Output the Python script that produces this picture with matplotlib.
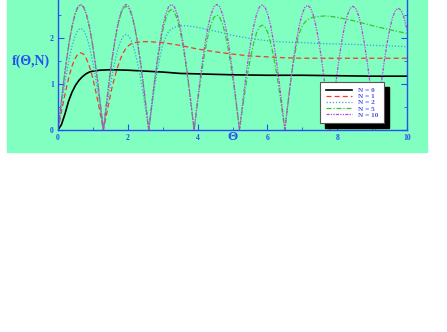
import numpy as np
import matplotlib.pyplot as plt
from matplotlib.patches import Rectangle

# valores leidos de la figura
# los arcos se leen cada 0.08125 (16 puntos por arco de ancho 1.3)
paso = 0.08125

# N = 0
theta_n0 = [0, 0.1, 0.2, 0.3, 0.4, 0.5, 0.6, 0.7, 0.8, 0.9, 1.0, 1.2, 1.5,
            2.0, 2.5, 3.0, 3.5, 4.0, 5.0, 6.0, 7.0, 8.0, 9.0, 10.0]
f_n0 = [0, 0.12, 0.35, 0.62, 0.82, 0.97, 1.08, 1.16, 1.22, 1.26, 1.28, 1.30, 1.31,
        1.30, 1.28, 1.26, 1.23, 1.22, 1.20, 1.19, 1.19, 1.18, 1.17, 1.17]

# N = 1
theta_n1 = list(np.round(np.arange(17) * paso, 5)) + [
    1.38, 1.46, 1.54, 1.625, 1.71, 1.79, 1.87, 1.95, 2.03, 2.11, 2.2, 2.3, 2.45,
    2.6, 3.0, 3.5, 4.0, 4.5, 5.0, 5.5, 6.0, 6.5, 7.0, 8.0, 9.0, 10.0]
f_n1 = [0, 0.33, 0.64, 0.93, 1.19, 1.40, 1.55, 1.65, 1.68, 1.65, 1.55, 1.40, 1.19, 0.93, 0.64, 0.33,
        0,
        0.30, 0.60, 0.90, 1.15, 1.37, 1.55, 1.68, 1.78, 1.84, 1.88, 1.90, 1.91, 1.92,
        1.92, 1.90, 1.84, 1.76, 1.70, 1.65, 1.61, 1.59, 1.57, 1.56, 1.56, 1.56, 1.56]

# N = 2
theta_n2 = list(np.round(np.arange(33) * paso, 5)) + [
    2.68, 2.76, 2.84, 2.925, 3.0, 3.09, 3.17, 3.25, 3.4, 3.575, 3.75, 4.0, 4.5,
    5.0, 5.5, 6.0, 6.5, 7.0, 7.5, 8.0, 8.5, 9.0, 9.5, 10.0]
f_n2 = [0, 0.43, 0.85, 1.23, 1.56, 1.84, 2.04, 2.17, 2.21, 2.17, 2.04, 1.84, 1.56, 1.23, 0.85, 0.43,
        0, 0.41, 0.80, 1.16, 1.47, 1.73, 1.92, 2.04, 2.08, 2.04, 1.92, 1.73, 1.47, 1.16, 0.80, 0.41,
        0,
        0.45, 0.90, 1.28, 1.60, 1.85, 2.03, 2.14, 2.20, 2.25, 2.27, 2.26, 2.23, 2.15,
        2.06, 1.99, 1.94, 1.91, 1.90, 1.88, 1.87, 1.86, 1.84, 1.83, 1.81]

# N = 5
theta_n5 = list(np.round(np.arange(81) * paso, 5)) + [
    6.58, 6.66, 6.74, 6.825, 6.9, 6.99, 7.07, 7.15, 7.3, 7.5, 7.65, 7.8, 8.0,
    8.5, 9.0, 9.5, 10.0]
f_n5 = [0, 0.53, 1.04, 1.51, 1.92, 2.26, 2.51, 2.67, 2.72, 2.67, 2.51, 2.26, 1.92, 1.51, 1.04, 0.53,
        0, 0.52, 1.03, 1.50, 1.90, 2.24, 2.49, 2.64, 2.69, 2.64, 2.49, 2.24, 1.90, 1.50, 1.03, 0.52,
        0, 0.51, 1.00, 1.46, 1.85, 2.18, 2.42, 2.57, 2.62, 2.57, 2.42, 2.18, 1.85, 1.46, 1.00, 0.51,
        0, 0.49, 0.96, 1.39, 1.77, 2.08, 2.31, 2.45, 2.50, 2.45, 2.31, 2.08, 1.77, 1.39, 0.96, 0.49,
        0, 0.44, 0.87, 1.27, 1.61, 1.89, 2.11, 2.24, 2.28, 2.24, 2.11, 1.89, 1.61, 1.27, 0.87, 0.44,
        0,
        0.52, 1.02, 1.45, 1.82, 2.08, 2.25, 2.34, 2.40, 2.45, 2.47, 2.48, 2.47, 2.45,
        2.37, 2.27, 2.18, 2.10]

# N = 10
theta_n10 = list(np.round(np.arange(124) * paso, 5)) + [10.0]
f_n10 = [0, 0.53, 1.05, 1.52, 1.93, 2.27, 2.52, 2.68, 2.73, 2.68, 2.52, 2.27, 1.93, 1.52, 1.05, 0.53,
         0, 0.53, 1.05, 1.52, 1.93, 2.27, 2.52, 2.68, 2.73, 2.68, 2.52, 2.27, 1.93, 1.52, 1.05, 0.53,
         0, 0.53, 1.05, 1.52, 1.93, 2.27, 2.52, 2.68, 2.73, 2.68, 2.52, 2.27, 1.93, 1.52, 1.05, 0.53,
         0, 0.53, 1.05, 1.52, 1.93, 2.27, 2.52, 2.68, 2.73, 2.68, 2.52, 2.27, 1.93, 1.52, 1.05, 0.53,
         0, 0.53, 1.04, 1.51, 1.92, 2.26, 2.51, 2.67, 2.72, 2.67, 2.51, 2.26, 1.92, 1.51, 1.04, 0.53,
         0, 0.53, 1.04, 1.51, 1.92, 2.25, 2.50, 2.66, 2.71, 2.66, 2.50, 2.25, 1.92, 1.51, 1.04, 0.53,
         0, 0.52, 1.03, 1.50, 1.90, 2.24, 2.49, 2.64, 2.69, 2.64, 2.49, 2.24, 1.90, 1.50, 1.03, 0.52,
         0, 0.52, 1.01, 1.47, 1.87, 2.20, 2.45, 2.60, 2.65, 2.60, 2.45, 2.20,
         2.18]

etiquetas = ["N = 0", "N = 1", "N = 2", "N = 5", "N = 10"]

verde = "#80FFC0"
azul = "#2A4FF0"

fig = plt.figure(figsize=(4.47, 3.32), dpi=100)
fondo = Rectangle((7/447, 1 - 152/332), 420/447, 152/332,
                  transform=fig.transFigure, color=verde, zorder=-10)
fig.patches.append(fondo)

ax = fig.add_axes([58/447, 1 - 130/332, 349/447, 3.0*46/332])
ax.set_facecolor(verde)

ax.plot(theta_n0, f_n0, color="black", lw=1.2, label=etiquetas[0])
ax.plot(theta_n1, f_n1, color="#F03A30", lw=0.9, ls=(0, (4, 2.5)), label=etiquetas[1])
ax.plot(theta_n2, f_n2, color="#3AA0E0", lw=0.9, ls=(0, (1, 1.5)), label=etiquetas[2])
ax.plot(theta_n5, f_n5, color="#40C030", lw=0.9, ls=(0, (4, 1.5, 1, 1.5)), label=etiquetas[3])
ax.plot(theta_n10, f_n10, color="#C040E0", lw=0.9, ls=(0, (2.5, 1, 1, 1, 1, 1)), label=etiquetas[4])

ax.set_xlim(0, 10)
ax.set_ylim(0, 3.0)
ax.set_xticks([0, 2, 4, 6, 8, 10])
ax.set_xticks([1, 3, 5, 7, 9], minor=True)
ax.set_yticks([0, 1, 2])
ax.set_yticks([0.5, 1.5, 2.5], minor=True)

for s in ax.spines.values():
    s.set_color(azul)
    s.set_linewidth(1.0)
ax.tick_params(which="both", direction="in", color=azul, right=True,
               labelcolor=azul, labelsize=5.5, pad=3)
ax.tick_params(which="major", length=4)
ax.tick_params(which="minor", length=2.5)
for lab in ax.get_xticklabels() + ax.get_yticklabels():
    lab.set_fontfamily("Liberation Serif")
    lab.set_fontweight("bold")

fig.text(31/447, 1 - 61/332, "f(Θ,N)", color=azul, fontsize=10,
         family="Liberation Serif", fontweight="bold", ha="center", va="center")
fig.text(233/447, 1 - 137/332, "Θ", color=azul, fontsize=9.5,
         family="Liberation Serif", fontweight="bold", ha="center", va="center")

leg = ax.legend(loc="lower right", bbox_to_anchor=((384-58)/349, (130-123)/138),
                borderaxespad=0, frameon=True, fancybox=False, framealpha=1,
                handlelength=3.6, labelspacing=0.0, borderpad=0.75, handletextpad=0.9,
                prop={"family": "Liberation Serif", "weight": "bold", "size": 5.2})
leg.get_frame().set_edgecolor("#555555")
leg.get_frame().set_linewidth(0.8)
leg.set_zorder(5)
for t in leg.get_texts():
    t.set_color("#4A50E8")

# sombra negra de la leyenda
fig.canvas.draw()
bb = leg.get_window_extent()
sombra = Rectangle((bb.x0 + 5, bb.y0 - 5), bb.width, bb.height, transform=None,
                   color="black", zorder=4)
ax.add_artist(sombra)

fig.savefig("out.png", dpi=100)
